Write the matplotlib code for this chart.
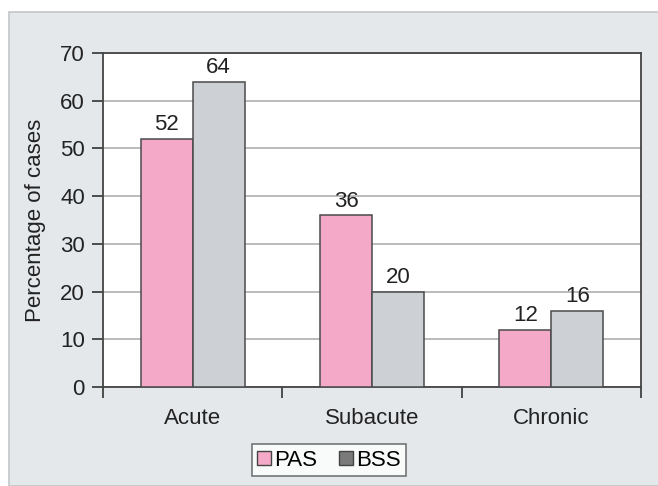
import matplotlib
matplotlib.use("Agg")
import matplotlib.pyplot as plt
from matplotlib.patches import Rectangle, Patch
import numpy as np

categories = ["Acute", "Subacute", "Chronic"]
pas = [52, 36, 12]
bss = [64, 20, 16]
yticks = [0, 10, 20, 30, 40, 50, 60, 70]

plt.rcParams["font.family"] = ["Liberation Sans", "DejaVu Sans"]
FS = 16

W, H = 658, 486
fig = plt.figure(figsize=(W / 100, H / 100), dpi=100, facecolor="white")

# grey panel behind the chart
panel = Rectangle((8.5 / W, 0), 1.0, 1 - 12.5 / H, transform=fig.transFigure,
                  facecolor="#e5e8eb", edgecolor="#c4c7ca", linewidth=1.2, zorder=-10)
fig.add_artist(panel)

ax = fig.add_axes([103 / W, 1 - 387 / H, (641 - 103) / W, (387 - 53) / H])
ax.set_zorder(1)
ax.set_facecolor("white")

x = np.arange(len(categories))
w = 0.29
pink = "#f5a9c8"
grey = "#cdd0d4"
b1 = ax.bar(x - w / 2, pas, w, color=pink, edgecolor="#4a4a4a", linewidth=1.1, zorder=3)
b2 = ax.bar(x + w / 2, bss, w, color=grey, edgecolor="#4a4a4a", linewidth=1.1, zorder=3)

for bars, vals in ((b1, pas), (b2, bss)):
    for r, v in zip(bars, vals):
        ax.annotate(str(v), (r.get_x() + r.get_width() / 2, v), xytext=(0, 2.5),
                    textcoords="offset points", ha="center", va="bottom",
                    fontsize=FS, color="#222222")

ax.set_xlim(-0.5, 2.5)
ax.set_ylim(0, 70)
ax.set_yticks(yticks)
ax.set_yticklabels([str(t) for t in yticks], fontsize=FS, color="#222222")
ax.yaxis.grid(True, color="#a8a8a8", linewidth=1.1, zorder=1)
ax.set_axisbelow(True)

ax.set_xticks(x)
ax.set_xticklabels(categories, fontsize=FS, color="#222222")
ax.tick_params(axis="x", which="major", length=0, pad=15)
ax.set_xticks([-0.5, 0.5, 1.5, 2.5], minor=True)
ax.tick_params(axis="x", which="minor", length=8, width=1.2, color="#333333", direction="out")
ax.tick_params(axis="y", length=8, width=1.2, color="#333333", pad=5)

for s in ax.spines.values():
    s.set_color("#444444")
    s.set_linewidth(1.3)

ax.set_ylabel("Percentage of cases", fontsize=FS, color="#222222", labelpad=10)

handles = [Patch(facecolor=pink, edgecolor="#444444"),
           Patch(facecolor="#7a7a7a", edgecolor="#444444")]
leg = fig.legend(handles, ["PAS", "BSS"], loc="center", bbox_to_anchor=(329 / W, 1 - 460 / H),
                 ncol=2, fontsize=FS, frameon=True, fancybox=False, handlelength=0.6,
                 handleheight=0.6, handletextpad=0.15, columnspacing=1.0, borderpad=0.25)
leg.get_frame().set_edgecolor("#555555")
leg.get_frame().set_linewidth(1.2)

fig.savefig("out.png", dpi=100, facecolor=fig.get_facecolor())
